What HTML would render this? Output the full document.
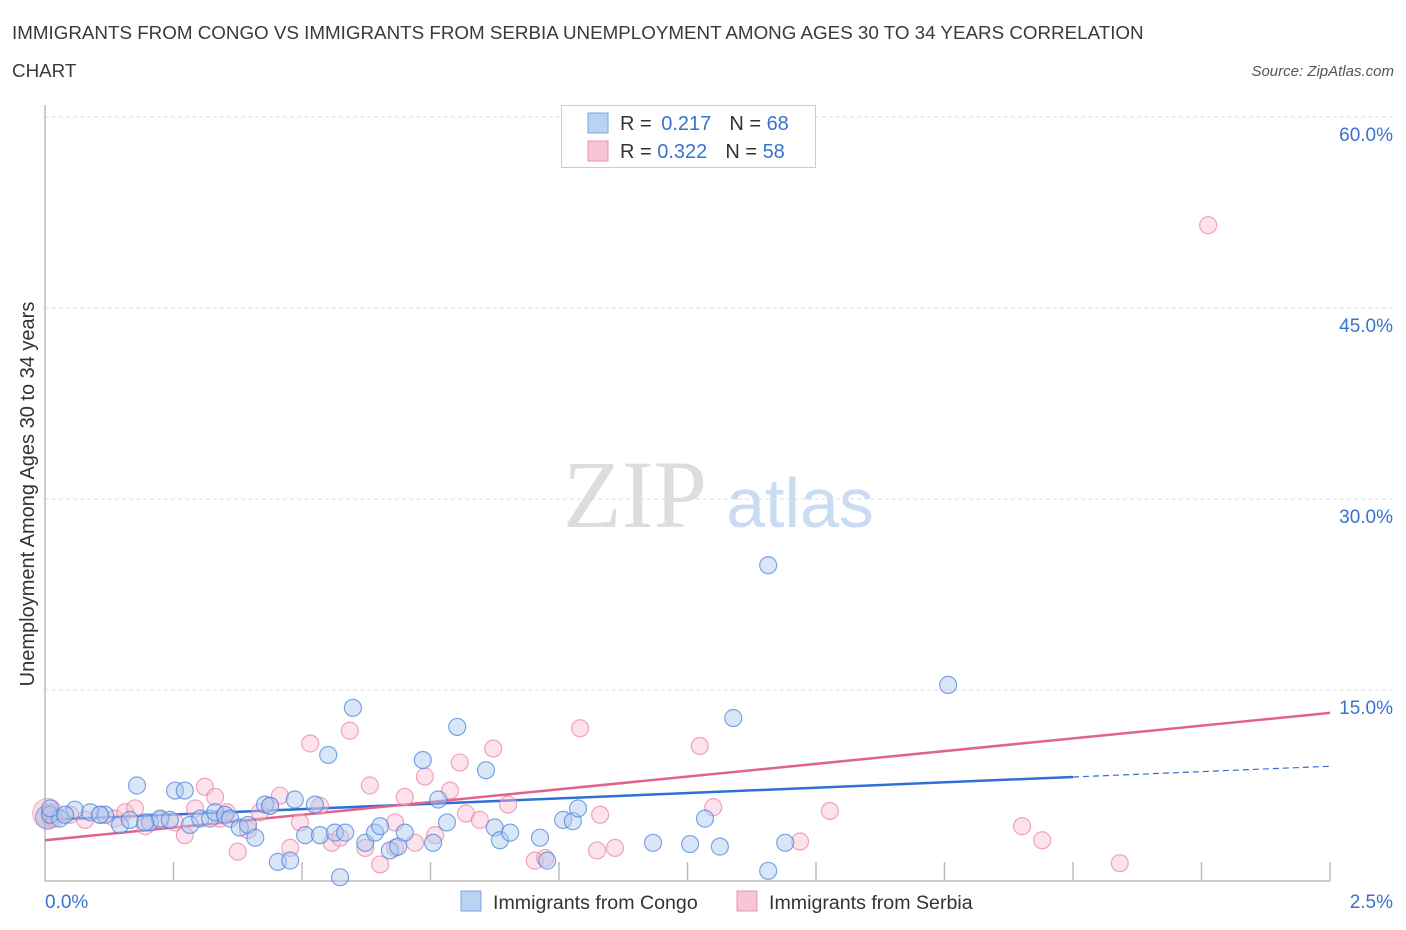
<!DOCTYPE html>
<html><head><meta charset="utf-8"><style>
body{margin:0;background:#fff;font-family:"Liberation Sans",sans-serif;}
#wrap{position:relative;width:1406px;height:930px;overflow:hidden;}
</style></head><body>
<div id="wrap">
<svg id="svg" width="1406" height="930" xmlns="http://www.w3.org/2000/svg" font-family="Liberation Sans, sans-serif">
<text x="12" y="39" font-size="18.8" fill="#3a3a3a">IMMIGRANTS FROM CONGO VS IMMIGRANTS FROM SERBIA UNEMPLOYMENT AMONG AGES 30 TO 34 YEARS CORRELATION</text>
<text x="12" y="77" font-size="18.8" fill="#3a3a3a">CHART</text>
<text x="1394" y="76" font-size="15" fill="#555" font-style="italic" text-anchor="end">Source: ZipAtlas.com</text>
<text x="635" y="527" font-size="96" fill="#ddd" font-family="Liberation Serif, serif" text-anchor="middle">ZIP</text>
<text x="800" y="527" font-size="70" fill="#c9dcf2" text-anchor="middle">atlas</text>
<g id="grid"></g>
<g id="axes"></g>
<g id="lines"></g>
<g id="pts"></g>
<text transform="translate(34,494) rotate(-90)" font-size="20" fill="#333" text-anchor="middle">Unemployment Among Ages 30 to 34 years</text>
<g>
<rect x="561.500" y="105.500" width="254" height="62" fill="#fff" stroke="#ccc"/>
<rect x="588" y="113" width="20" height="20" fill="#b9d3f4" stroke="#7aa6e6"/>
<rect x="588" y="141" width="20" height="20" fill="#f8c5d4" stroke="#eb94b0"/>
<text x="620" y="130" font-size="20" fill="#333">R = <tspan fill="#3a72d0">&#8201;0.217</tspan><tspan dx="18">N = </tspan><tspan fill="#3a72d0">68</tspan></text>
<text x="620" y="158" font-size="20" fill="#333">R = <tspan fill="#3a72d0">0.322</tspan><tspan dx="18">N = </tspan><tspan fill="#3a72d0">58</tspan></text>
</g>
<g>
<rect x="461" y="891" width="20" height="20" fill="#b9d3f4" stroke="#7aa6e6"/>
<text x="493" y="909" font-size="19.6" fill="#333">Immigrants from Congo</text>
<rect x="737" y="891" width="20" height="20" fill="#f8c5d4" stroke="#eb94b0"/>
<text x="769" y="909" font-size="19.6" fill="#333">Immigrants from Serbia</text>
</g>
</svg>
</div>
<script>
const congoX=[0.010,0.029,0.058,0.088,0.117,0.146,0.165,0.179,0.204,0.224,0.253,0.272,0.282,0.302,0.321,0.331,0.350,0.360,0.379,0.395,0.409,0.428,0.438,0.453,0.477,0.486,0.506,0.525,0.535,0.551,0.564,0.574,0.584,0.599,0.623,0.642,0.652,0.671,0.687,0.700,0.735,0.755,0.765,0.782,0.802,0.858,0.875,0.885,0.905,0.963,0.977,1.008,1.027,1.037,1.183,1.255,1.284,1.313,1.339,1.407,1.407,1.440,1.757,0.010,0.039,0.107,0.195,0.243];
const congoY=[5.2,4.9,5.6,5.4,5.2,4.4,4.8,7.5,4.6,4.9,7.1,7.1,4.4,4.9,4.9,5.4,5.2,4.9,4.2,4.4,3.4,6.0,5.9,1.5,1.6,6.4,3.6,6.0,3.6,9.9,3.8,0.3,3.8,13.6,3.0,3.8,4.3,2.4,2.7,3.8,9.5,3.0,6.4,4.6,12.1,8.7,4.2,3.2,3.8,3.4,1.6,4.8,4.7,5.7,3.0,2.9,4.9,2.7,12.8,24.8,0.8,3.0,15.4,5.7,5.2,5.2,4.6,4.8];
const serbiaX=[0.010,0.019,0.049,0.078,0.107,0.136,0.156,0.175,0.195,0.224,0.253,0.272,0.292,0.311,0.331,0.340,0.354,0.375,0.395,0.418,0.438,0.457,0.477,0.496,0.516,0.535,0.558,0.574,0.593,0.623,0.632,0.652,0.681,0.700,0.720,0.739,0.759,0.788,0.807,0.819,0.872,0.901,0.953,0.973,1.041,1.074,1.080,1.109,1.274,1.300,1.469,1.527,1.901,1.940,2.091,2.263,0.846,0.681];
const serbiaY=[5.4,4.9,5.2,4.8,5.2,4.9,5.4,5.7,4.3,4.8,4.6,3.6,5.7,7.4,6.6,4.9,5.4,2.3,4.0,5.4,5.9,6.7,2.6,4.6,10.8,5.9,3.0,3.4,11.8,2.6,7.5,1.3,4.6,6.6,3.0,8.2,3.6,7.1,9.3,5.3,10.4,6.0,1.6,1.8,12.0,2.4,5.2,2.6,10.6,5.8,3.1,5.5,4.3,3.2,1.4,51.5,4.8,2.6];
const yTicks=[15,30,45,60];
const yTickLabels=["15.0%","30.0%","45.0%","60.0%"];
const congoTrend=[4.8,8.17];   // value at x=0, x=2.0
const serbiaTrend=[3.2,13.2];  // value at x=0, x=2.5
const NS="http://www.w3.org/2000/svg";
const X0=45,X1=1330,Y0=881,Y60=117;
const sx=v=>X0+(X1-X0)*v/2.5, sy=v=>Y0-(Y0-Y60)*v/60;
function mk(tag,attrs,parent){const e=document.createElementNS(NS,tag);for(const k in attrs)e.setAttribute(k,attrs[k]);document.getElementById(parent).appendChild(e);return e;}
yTicks.forEach((t,i)=>{
  const g=mk('line',{x1:X0,x2:1392,y1:sy(t),y2:sy(t),stroke:'#ddd','stroke-dasharray':'4,3'},'grid');
  
  
  const l=mk('text',{x:1393,y:sy(t)+24,'font-size':19,fill:'#3a72d0','text-anchor':'end'},'grid');
  l.textContent=yTickLabels[i];
  
  
});
const ya=mk('line',{x1:X0,x2:X0,y1:105,y2:Y0,stroke:'#bbb','stroke-width':1.5},'axes');


const xa=mk('line',{x1:X0,x2:X1,y1:Y0,y2:Y0,stroke:'#bbb','stroke-width':1.5},'axes');


for(let i=1;i<=10;i++){const tk=mk('line',{x1:sx(i*0.25),x2:sx(i*0.25),y1:Y0-19,y2:Y0,stroke:'#bbb','stroke-width':1.5},'axes');
  
  }
const xl0=mk('text',{x:45,y:908,'font-size':19,fill:'#3a72d0'},'axes');xl0.textContent='0.0%';


const xl1=mk('text',{x:1393,y:908,'font-size':19,fill:'#3a72d0','text-anchor':'end'},'axes');xl1.textContent='2.5%';


const bb1=mk('circle',{cx:sx(0.005),cy:sy(5.3),r:15,fill:'rgba(240,150,180,0.35)',stroke:'rgba(230,120,160,0.5)'},'pts');


const bb2=mk('circle',{cx:sx(0.005),cy:sy(5.0),r:12,fill:'rgba(140,170,230,0.4)',stroke:'rgba(80,130,220,0.6)'},'pts');


serbiaX.forEach((x,i)=>{const c=mk('circle',{cx:sx(x),cy:sy(serbiaY[i]),r:8.5,fill:'rgba(248,190,208,0.45)',stroke:'rgba(235,130,165,0.7)','stroke-width':1.2},'pts');
  
  });
congoX.forEach((x,i)=>{const c=mk('circle',{cx:sx(x),cy:sy(congoY[i]),r:8.5,fill:'rgba(170,200,240,0.45)',stroke:'rgba(70,130,220,0.7)','stroke-width':1.2},'pts');
  
  });
const slopeC=(congoTrend[1]-congoTrend[0])/2.0;
const tc=mk('line',{x1:sx(0),y1:sy(congoTrend[0]),x2:sx(2.0),y2:sy(congoTrend[1]),stroke:'#2f6fd6','stroke-width':2.5},'lines');


const tcd=mk('line',{x1:sx(2.0),y1:sy(congoTrend[1]),x2:sx(2.5),y2:sy(congoTrend[0]+slopeC*2.5),stroke:'#2f6fd6','stroke-width':1.2,'stroke-dasharray':'6,4'},'lines');


const ts=mk('line',{x1:sx(0),y1:sy(serbiaTrend[0]),x2:sx(2.5),y2:sy(serbiaTrend[1]),stroke:'#e0628d','stroke-width':2.5},'lines');


</script>
</body></html>
